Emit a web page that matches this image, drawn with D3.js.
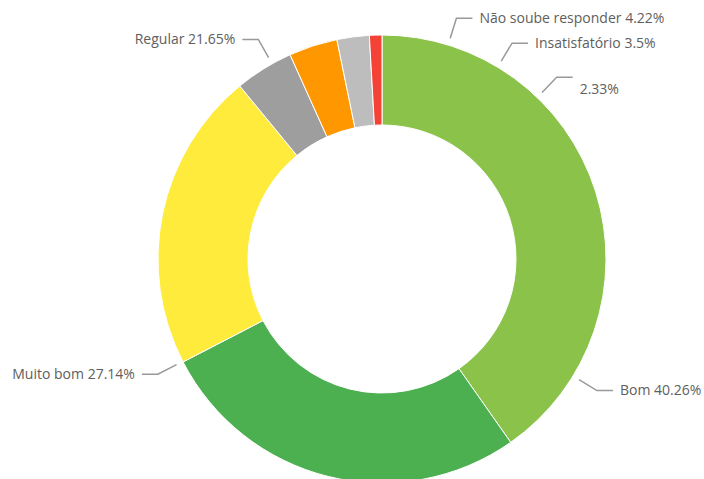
<!DOCTYPE html>
<html>
<head>
<meta charset="utf-8">
<script src="https://cdn.jsdelivr.net/npm/d3@7"></script>
<style>
  body { margin: 0; background: #fff; }
  text { font-family: "Open Sans", "DejaVu Sans", sans-serif; }
</style>
</head>
<body>
<svg id="chart" width="704" height="479"></svg>
<script>
// data, clockwise from 12 o'clock
var categories = ["Bom", "Muito bom", "Regular", "Não soube responder", "Insatisfatório", "", ""];
var values = [40.26, 27.14, 21.65, 4.22, 3.5, 2.33, 0.9];
var colors = ["#8BC34A", "#4CAF50", "#FFEB3B", "#9E9E9E", "#FF9800", "#BDBDBD", "#F44336"];

var data = categories.map((c, i) => ({ name: c, value: values[i], color: colors[i] }));

var svg = d3.select("#chart");
var cx = 382, cy = 259;
var outerR = 224, innerR = 134;

var g = svg.append("g").attr("transform", `translate(${cx},${cy})`);

var pie = d3.pie().sort(null).value(d => d.value);
var arc = d3.arc().innerRadius(innerR).outerRadius(outerR);
var arcs = pie(data);

g.selectAll(".slice")
  .data(arcs)
  .enter()
  .append("path")
  .attr("class", "slice")
  .attr("d", arc)
  .attr("fill", d => d.data.color)
  .attr("stroke", "#fff")
  .attr("stroke-width", 1);

// labels: the source chart places them rotated ~49deg from the slice centre
var labelShift = 49 * Math.PI / 180;
var nudge = { "2.33%": { da: 2.3, dy: 12 } };
var r1 = 231, r2 = 252, hLen = 16, gap = 7;

arcs.forEach(d => {
  if (d.data.value < 1) return; // tiny slice label is hidden in the original
  var txt = (d.data.name ? d.data.name + " " : "") + d.data.value + "%";
  var n = nudge[txt] || { da: 0, dy: 0 };
  var a = (d.startAngle + d.endAngle) / 2 + labelShift + n.da * Math.PI / 180;
  a = a % (2 * Math.PI);
  var sx = Math.sin(a), sy = -Math.cos(a);
  var right = sx >= 0;
  var p1 = [r1 * sx, r1 * sy], p2 = [r2 * sx, r2 * sy];
  var p3 = [p2[0] + (right ? hLen : -hLen), p2[1]];

  g.append("polyline")
    .attr("points", [p1, p2, p3].map(p => p.join(",")).join(" "))
    .attr("fill", "none")
    .attr("stroke", "#999")
    .attr("stroke-width", 1.5);

  g.append("text")
    .attr("x", p3[0] + (right ? gap : -gap))
    .attr("y", p3[1] + n.dy)
    .attr("dy", "0.35em")
    .attr("text-anchor", right ? "start" : "end")
    .attr("fill", "#605E5C")
    .style("font-size", "14px")
    .text(txt);
});
</script>
</body>
</html>
